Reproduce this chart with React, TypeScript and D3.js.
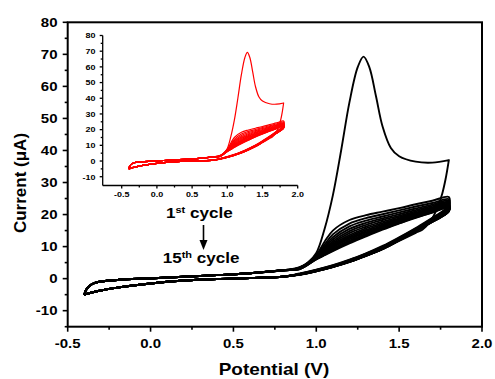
import * as React from "react";
import * as d3 from "d3";

const W = 495;
const H = 379;

// shared low-potential branches (V, µA)
const fwdLowV = [-0.4, -0.39, -0.37, -0.34, -0.3, -0.2, 0.0, 0.2, 0.4, 0.6, 0.8];
const fwdLowI = [-5.0, -3.6, -2.3, -1.4, -0.9, -0.4, 0.1, 0.6, 1.1, 1.7, 2.6];
const revLowV = [0.8, 0.6, 0.4, 0.2, 0.0, -0.2, -0.3, -0.36, -0.4];
const revLowI = [0.6, 0.2, -0.1, -0.6, -1.5, -2.8, -3.7, -4.4, -5.0];

// 1st cycle (oxidation peak)
const c1FwdV = [0.9, 0.95, 1.0, 1.05, 1.1, 1.15, 1.2, 1.25, 1.285, 1.32, 1.36, 1.4, 1.45, 1.5, 1.6, 1.7, 1.8];
const c1FwdI = [3.6, 5.0, 8.0, 15.5, 26.0, 40.0, 55.0, 66.0, 69.3, 66.0, 57.0, 47.5, 40.8, 38.2, 36.5, 36.2, 37.0];
const c1RevV = [1.8, 1.78, 1.76, 1.73, 1.69, 1.64, 1.6, 1.5, 1.4, 1.3, 1.2, 1.1, 1.0, 0.9];
const c1RevI = [37.0, 31.0, 26.5, 22.0, 18.0, 15.3, 14.3, 11.8, 9.2, 7.1, 5.2, 3.6, 2.3, 1.2];

// cycles 2..15
const fwdHighV = [0.9, 1.0, 1.05, 1.1, 1.2, 1.3, 1.4, 1.5, 1.6, 1.7, 1.8];
const cyclesFwdI = [
  [3.5, 7.5, 11.5, 15.0, 18.3, 19.8, 20.9, 22.0, 23.2, 24.3, 25.5],
  [3.4, 7.2, 10.6, 13.8, 17.2, 18.9, 20.1, 21.3, 22.5, 23.6, 24.8],
  [3.4, 7.0, 10.0, 12.9, 16.3, 18.1, 19.4, 20.7, 21.9, 23.1, 24.3],
  [3.3, 6.9, 9.5, 12.2, 15.5, 17.4, 18.8, 20.1, 21.4, 22.7, 23.9],
  [3.3, 6.8, 9.1, 11.6, 14.8, 16.8, 18.3, 19.6, 21.0, 22.3, 23.6],
  [3.2, 6.7, 8.8, 11.1, 14.2, 16.2, 17.8, 19.2, 20.6, 22.0, 23.3],
  [3.2, 6.6, 8.5, 10.7, 13.6, 15.7, 17.3, 18.8, 20.3, 21.7, 23.1],
  [3.2, 6.5, 8.2, 10.3, 13.1, 15.2, 16.9, 18.5, 20.0, 21.4, 22.9],
  [3.1, 6.4, 8.0, 10.0, 12.7, 14.8, 16.5, 18.2, 19.7, 21.2, 22.8],
  [3.1, 6.3, 7.8, 9.7, 12.3, 14.4, 16.2, 17.9, 19.5, 21.0, 22.6],
  [3.1, 6.2, 7.6, 9.4, 11.9, 14.0, 15.9, 17.7, 19.3, 20.9, 22.5],
  [3.0, 6.1, 7.5, 9.1, 11.6, 13.7, 15.7, 17.5, 19.2, 20.8, 22.4],
  [3.0, 6.1, 7.4, 8.8, 11.3, 13.4, 15.5, 17.3, 19.1, 20.7, 22.3],
  [3.0, 6.0, 7.3, 8.6, 11.0, 13.2, 15.3, 17.2, 19.0, 20.6, 22.3],
];
const revHighV = [1.8, 1.75, 1.7, 1.6, 1.5, 1.4, 1.3, 1.2, 1.1, 1.0, 0.9];
const cyclesRevI = [
  [23.0, 20.6, 19.0, 15.8, 12.9, 10.2, 7.9, 5.9, 4.2, 2.8, 1.6],
  [22.6, 20.3, 18.8, 15.6, 12.7, 10.0, 7.8, 5.8, 4.1, 2.7, 1.5],
  [22.3, 20.1, 18.6, 15.5, 12.6, 9.9, 7.7, 5.7, 4.0, 2.7, 1.5],
  [22.0, 19.9, 18.4, 15.4, 12.5, 9.8, 7.6, 5.6, 4.0, 2.6, 1.5],
  [21.8, 19.8, 18.3, 15.3, 12.4, 9.7, 7.5, 5.6, 3.9, 2.6, 1.4],
  [21.6, 19.6, 18.2, 15.2, 12.3, 9.6, 7.5, 5.5, 3.9, 2.5, 1.4],
  [21.5, 19.5, 18.1, 15.1, 12.2, 9.5, 7.4, 5.5, 3.8, 2.5, 1.4],
  [21.4, 19.4, 18.0, 15.0, 12.2, 9.5, 7.3, 5.4, 3.8, 2.5, 1.4],
  [21.3, 19.3, 17.9, 15.0, 12.1, 9.4, 7.3, 5.4, 3.8, 2.4, 1.3],
  [21.2, 19.3, 17.9, 14.9, 12.1, 9.4, 7.2, 5.3, 3.7, 2.4, 1.3],
  [21.1, 19.2, 17.8, 14.9, 12.0, 9.3, 7.2, 5.3, 3.7, 2.4, 1.3],
  [21.1, 19.2, 17.8, 14.8, 12.0, 9.3, 7.2, 5.3, 3.7, 2.4, 1.3],
  [21.0, 19.1, 17.7, 14.8, 12.0, 9.3, 7.1, 5.2, 3.7, 2.3, 1.3],
  [21.0, 19.1, 17.7, 14.8, 11.9, 9.2, 7.1, 5.2, 3.6, 2.3, 1.3],
];

const xTicks = [-0.5, 0.0, 0.5, 1.0, 1.5, 2.0];
const yTicks = [-10, 0, 10, 20, 30, 40, 50, 60, 70, 80];
const xMinor = [-0.25, 0.25, 0.75, 1.25, 1.75];
const yMinor = [-15, -5, 5, 15, 25, 35, 45, 55, 65, 75];

type Pt = [number, number];
const zip = (v: number[], i: number[]): Pt[] => v.map((x, k) => [x, i[k]]);

const loops: Pt[][] = [
  [...zip(fwdLowV, fwdLowI), ...zip(c1FwdV, c1FwdI), ...zip(c1RevV, c1RevI), ...zip(revLowV, revLowI)],
  ...cyclesFwdI.map((f, k) => [
    ...zip(fwdLowV, fwdLowI),
    ...zip(fwdHighV, f),
    ...zip(revHighV, cyclesRevI[k]),
    ...zip(revLowV, revLowI),
  ]),
];

const FONT = "Arial, 'Liberation Sans', sans-serif";

const Txt: React.FC<{ x: number; y: number; size: number; sx?: number; anchor?: string; rotate?: number; dy?: string; children: React.ReactNode }> = ({ x, y, size, sx = 1.2, anchor = "middle", rotate = 0, dy, children }) => (
  <text
    transform={`translate(${x},${y}) rotate(${rotate}) scale(${sx},1)`}
    fontSize={size}
    fontWeight="bold"
    fontFamily={FONT}
    textAnchor={anchor}
    dy={dy}
    fill="#000"
  >
    {children}
  </text>
);

export default function App() {
  // main plot
  const x = d3.scaleLinear().domain([-0.5, 2.0]).range([67.7, 482]);
  const y = d3.scaleLinear().domain([-15, 80]).range([326.7, 22.3]);
  // inset
  const ix = d3.scaleLinear().domain([-0.77, 2.0]).range([102.7, 297.7]);
  const iy = d3.scaleLinear().domain([-15.6, 80]).range([185.5, 35.5]);

  const line = d3.line<Pt>().x((d) => x(d[0])).y((d) => y(d[1])).curve(d3.curveCatmullRom.alpha(0.5));
  const iline = d3.line<Pt>().x((d) => ix(d[0])).y((d) => iy(d[1])).curve(d3.curveCatmullRom.alpha(0.5));

  const [x0, x1] = x.range();
  const [yb, yt] = y.range();
  const [ix0, ix1] = ix.range();
  const [iyb, iyt] = iy.range();

  return (
    <svg width={W} height={H} style={{ position: "absolute", left: 0, top: 0, background: "#fff" }}>
      {/* curves */}
      <g fill="none" stroke="#000" strokeWidth={1.9} strokeLinejoin="round">
        {loops.map((d, k) => (
          <path key={k} d={line(d) || ""} />
        ))}
      </g>

      {/* frame */}
      <rect x={x0} y={yt} width={x1 - x0} height={yb - yt} fill="none" stroke="#000" strokeWidth={2} />
      <g stroke="#000" strokeWidth={1.6}>
        {xTicks.map((t) => (
          <line key={"xt" + t} x1={x(t)} x2={x(t)} y1={yb} y2={yb + 5} />
        ))}
        {xMinor.map((t) => (
          <line key={"xm" + t} x1={x(t)} x2={x(t)} y1={yb} y2={yb + 3} />
        ))}
        {yTicks.map((t) => (
          <line key={"yt" + t} x1={x0} x2={x0 - 5} y1={y(t)} y2={y(t)} />
        ))}
        {yMinor.map((t) => (
          <line key={"ym" + t} x1={x0} x2={x0 - 3} y1={y(t)} y2={y(t)} />
        ))}
      </g>
      {xTicks.map((t) => (
        <Txt key={"xl" + t} x={x(t)} y={347.5} size={12.5}>
          {t.toFixed(1)}
        </Txt>
      ))}
      {yTicks.map((t) => (
        <Txt key={"yl" + t} x={57.5} y={y(t)} size={12.5} anchor="end" dy="0.36em">
          {String(t)}
        </Txt>
      ))}
      <Txt x={274} y={375} size={16.5} sx={1.15}>
        Potential (V)
      </Txt>
      <Txt x={26} y={183} size={17} sx={1} rotate={-90}>
        Current (μA)
      </Txt>

      {/* inset */}
      <g fill="none" stroke="#ff0000" strokeWidth={1.2} strokeLinejoin="round">
        {loops.map((d, k) => (
          <path key={k} d={iline(d) || ""} />
        ))}
      </g>
      <g stroke="#000" strokeWidth={1.3}>
        <line x1={ix0} x2={ix0} y1={iyb} y2={iyt} />
        <line x1={ix0} x2={ix1} y1={iyb} y2={iyb} />
        {xTicks.map((t) => (
          <line key={"ixt" + t} x1={ix(t)} x2={ix(t)} y1={iyb} y2={iyb + 3} />
        ))}
        {xMinor.map((t) => (
          <line key={"ixm" + t} x1={ix(t)} x2={ix(t)} y1={iyb} y2={iyb + 2} />
        ))}
        {yTicks.map((t) => (
          <line key={"iyt" + t} x1={ix0} x2={ix0 - 3} y1={iy(t)} y2={iy(t)} />
        ))}
        {yMinor.slice(1).map((t) => (
          <line key={"iym" + t} x1={ix0} x2={ix0 - 2} y1={iy(t)} y2={iy(t)} />
        ))}
      </g>
      {xTicks.map((t) => (
        <Txt key={"ixl" + t} x={ix(t)} y={197} size={7.8} sx={1.15}>
          {t.toFixed(1)}
        </Txt>
      ))}
      {yTicks.map((t) => (
        <Txt key={"iyl" + t} x={95.5} y={iy(t)} size={7.8} sx={1.15} anchor="end" dy="0.36em">
          {String(t)}
        </Txt>
      ))}

      {/* annotation */}
      <Txt x={166} y={218.3} size={14} sx={1.22} anchor="start">
        1<tspan fontSize={9} dy={-5.5}>st</tspan>
        <tspan dy={5.5}> cycle</tspan>
      </Txt>
      <Txt x={162.7} y={263.3} size={14} sx={1.22} anchor="start">
        15<tspan fontSize={9} dy={-5.5}>th</tspan>
        <tspan dy={5.5}> cycle</tspan>
      </Txt>
      <line x1={203.5} x2={203.5} y1={225} y2={243} stroke="#000" strokeWidth={1.6} />
      <path d="M199.5,240 L207.5,240 L203.5,250 Z" fill="#000" />
    </svg>
  );
}
